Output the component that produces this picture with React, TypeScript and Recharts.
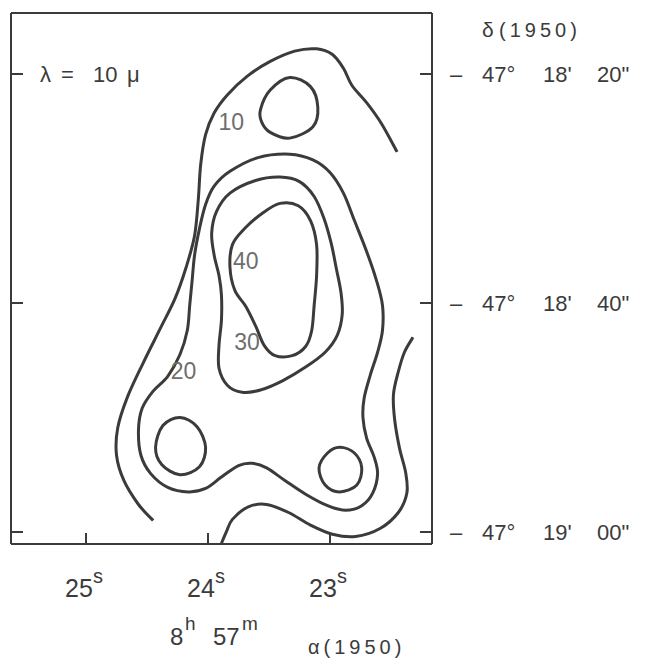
import React from "react";
import { LineChart, Line, XAxis, YAxis, ReferenceDot } from "recharts";

// right ascension in seconds (8h 57m), declination in arcsec past -47° 18'
const raTicks = [25, 24, 23];
const decTicks = [20, 40, 60];
const decTickText: Record<number, string[]> = {
  20: ["47°", "18'", '20"'],
  40: ["47°", "18'", '40"'],
  60: ["47°", "19'", '00"'],
};

// outer 10 contour, open at both ends
const contour10Outer: number[][] = [
  [24.45, 59.0], [24.57, 57.6], [24.69, 55.5], [24.75, 53.3], [24.74, 50.9],
  [24.66, 48.2], [24.53, 45.2], [24.39, 42.2], [24.27, 39.6], [24.18, 36.9],
  [24.11, 34.1], [24.08, 31.0], [24.06, 27.9], [24.02, 25.3], [23.95, 23.4],
  [23.84, 21.8], [23.68, 20.2], [23.49, 18.9], [23.29, 18.0], [23.11, 17.8],
  [22.98, 18.3], [22.89, 19.5], [22.82, 21.0], [22.7, 22.5], [22.58, 24.3],
  [22.45, 26.8],
];

// lower-right arc, open
const contour10Lower: number[][] = [
  [22.32, 43.0], [22.39, 44.3], [22.44, 46.0], [22.48, 48.0], [22.47, 50.2],
  [22.43, 52.7], [22.38, 54.8], [22.37, 56.6], [22.44, 58.3], [22.59, 59.7],
  [22.79, 60.4], [22.98, 60.2], [23.16, 59.4], [23.34, 58.3], [23.52, 57.6],
  [23.67, 57.8], [23.8, 58.9], [23.85, 60.0], [23.89, 61.0],
];

// small 10 loop near the top
const contour10Top: number[][] = [
  [23.57, 23.1], [23.49, 21.4], [23.33, 20.3], [23.16, 21.1], [23.1, 22.9],
  [23.14, 24.6], [23.33, 25.6], [23.49, 25.1], [23.56, 24.2],
];

const contour20: number[][] = [
  [23.33, 27.0], [23.14, 27.5], [23.0, 28.6], [22.89, 30.4], [22.8, 32.8],
  [22.7, 35.5], [22.62, 38.0], [22.57, 40.2], [22.57, 42.4], [22.61, 44.3],
  [22.67, 46.3], [22.72, 48.3], [22.73, 50.0], [22.7, 51.8], [22.64, 53.4],
  [22.61, 54.9], [22.65, 56.6], [22.74, 57.7], [22.87, 58.1], [23.02, 57.7],
  [23.2, 56.7], [23.37, 55.5], [23.52, 54.4], [23.64, 54.0], [23.75, 54.2],
  [23.89, 55.2], [24.02, 56.2], [24.16, 56.5], [24.33, 56.1], [24.47, 54.9],
  [24.55, 53.3], [24.57, 51.1], [24.54, 49.2], [24.45, 47.7], [24.33, 46.4],
  [24.23, 44.5], [24.17, 42.4], [24.15, 40.2], [24.13, 38.0], [24.11, 35.8],
  [24.07, 33.5], [24.02, 31.4], [23.95, 29.8], [23.82, 28.5], [23.59, 27.3],
];

// 20 loops at lower left and lower right
const contour20Left: number[][] = [
  [24.43, 52.6], [24.37, 50.7], [24.23, 50.0], [24.09, 50.8], [24.02, 52.6],
  [24.07, 54.3], [24.23, 55.0], [24.38, 54.1],
];
const contour20Right: number[][] = [
  [23.09, 54.4], [23.02, 53.1], [22.92, 52.6], [22.8, 53.1], [22.74, 54.4],
  [22.78, 55.9], [22.92, 56.5], [23.04, 55.9],
];

const contour30: number[][] = [
  [23.41, 29.0], [23.25, 29.4], [23.13, 30.7], [23.05, 32.6], [22.99, 34.8],
  [22.95, 36.9], [22.91, 39.1], [22.9, 41.0], [22.94, 42.8], [23.04, 44.3],
  [23.2, 45.6], [23.39, 46.8], [23.57, 47.6], [23.72, 47.8], [23.84, 47.2],
  [23.91, 45.7], [23.91, 43.7], [23.89, 41.5], [23.89, 39.3], [23.91, 37.6],
  [23.95, 35.8], [23.97, 33.9], [23.93, 32.0], [23.82, 30.4], [23.61, 29.3],
];

const contour40: number[][] = [
  [23.41, 31.3], [23.26, 31.5], [23.16, 32.8], [23.11, 34.9], [23.11, 37.6],
  [23.13, 40.2], [23.15, 42.4], [23.2, 43.8], [23.31, 44.6], [23.45, 44.6],
  [23.54, 43.7], [23.61, 42.0], [23.69, 40.3], [23.78, 38.9], [23.82, 36.9],
  [23.8, 34.9], [23.7, 33.5], [23.56, 32.2],
];

const contourLabels = [
  { text: "10", ra: 23.81, dec: 24.2 },
  { text: "40", ra: 23.69, dec: 36.3 },
  { text: "30", ra: 23.68, dec: 43.4 },
  { text: "20", ra: 24.2, dec: 45.9 },
];

const INK = "#3b3b3b";
const FONT = "'Liberation Sans', Arial, sans-serif";

const toPoints = (c: number[][]) => c.map(([ra, dec]) => ({ ra, dec }));

// catmull-rom through the traced points, closed or open
function smoothCurve(closed: boolean) {
  return (context: any) => {
    let pts: number[][] = [];
    return {
      areaStart() {},
      areaEnd() {},
      lineStart() {
        pts = [];
      },
      point(x: number, y: number) {
        pts.push([+x, +y]);
      },
      lineEnd() {
        const n = pts.length;
        if (n < 2) return;
        const at = (i: number) =>
          closed ? pts[(i + n) % n] : pts[Math.max(0, Math.min(n - 1, i))];
        context.moveTo(pts[0][0], pts[0][1]);
        const segs = closed ? n : n - 1;
        for (let i = 0; i < segs; i++) {
          const p0 = at(i - 1), p1 = at(i), p2 = at(i + 1), p3 = at(i + 2);
          context.bezierCurveTo(
            p1[0] + (p2[0] - p0[0]) / 6, p1[1] + (p2[1] - p0[1]) / 6,
            p2[0] - (p3[0] - p1[0]) / 6, p2[1] - (p3[1] - p1[1]) / 6,
            p2[0], p2[1]
          );
        }
        if (closed) context.closePath();
      },
    };
  };
}

const closedCurve = smoothCurve(true);
const openCurve = smoothCurve(false);

const series = [
  { name: "10-outer", data: contour10Outer, closed: false },
  { name: "10-lower", data: contour10Lower, closed: false },
  { name: "10-top", data: contour10Top, closed: true },
  { name: "20", data: contour20, closed: true },
  { name: "20-left", data: contour20Left, closed: true },
  { name: "20-right", data: contour20Right, closed: true },
  { name: "30", data: contour30, closed: true },
  { name: "40", data: contour40, closed: true },
];

const RaTick = (props: any) => {
  const { x, y, payload } = props;
  return (
    <g>
      <line x1={x} y1={y} x2={x} y2={y - 11} stroke={INK} strokeWidth={2} />
      <text x={x - 2} y={y + 53} textAnchor="middle" fontSize={25} fill={INK} fontFamily={FONT}>
        {payload.value}
        <tspan dy={-14} fontSize={20}>s</tspan>
      </text>
    </g>
  );
};

const TopTick = (props: any) => {
  const { x, y } = props;
  return <line x1={x} y1={y} x2={x} y2={y + 11} stroke={INK} strokeWidth={2} />;
};

const LeftTick = (props: any) => {
  const { x, y } = props;
  return <line x1={x} y1={y} x2={x + 12} y2={y} stroke={INK} strokeWidth={2} />;
};

const DecTick = (props: any) => {
  const { x, y, payload } = props;
  const parts = decTickText[payload.value] || [];
  const base = y + 8;
  return (
    <g>
      <line x1={x} y1={y} x2={x - 12} y2={y} stroke={INK} strokeWidth={2} />
      <text y={base} fontSize={22} fill={INK} fontFamily={FONT}>
        <tspan x={x + 18}>–</tspan>
        <tspan x={x + 50}>{parts[0]}</tspan>
        <tspan x={x + 111}>{parts[1]}</tspan>
        <tspan x={x + 165}>{parts[2]}</tspan>
      </text>
    </g>
  );
};

export default function App() {
  return (
    <div style={{ position: "absolute", left: 0, top: 0, width: 655, height: 661, background: "#fff" }}>
      <LineChart
        width={655}
        height={661}
        margin={{ top: 12, right: 222, bottom: 116, left: 10 }}
      >
        <XAxis
          dataKey="ra"
          type="number"
          domain={[22.164, 25.615]}
          allowDataOverflow
          reversed
          ticks={raTicks}
          interval={0}
          height={1}
          tickSize={0}
          tickMargin={0}
          tickLine={false}
          tick={<RaTick />}
          axisLine={{ stroke: INK, strokeWidth: 2 }}
        />
        <XAxis
          xAxisId="top"
          orientation="top"
          type="number"
          domain={[22.164, 25.615]}
          allowDataOverflow
          reversed
          ticks={raTicks}
          interval={0}
          height={1}
          tickSize={0}
          tickMargin={0}
          tickLine={false}
          tick={<TopTick />}
          axisLine={{ stroke: INK, strokeWidth: 2 }}
        />
        <YAxis
          dataKey="dec"
          type="number"
          domain={[14.67, 61.05]}
          allowDataOverflow
          reversed
          ticks={decTicks}
          interval={0}
          width={1}
          tickSize={0}
          tickMargin={0}
          tickLine={false}
          tick={<LeftTick />}
          axisLine={{ stroke: INK, strokeWidth: 2 }}
        />
        <YAxis
          yAxisId="right"
          orientation="right"
          type="number"
          domain={[14.67, 61.05]}
          allowDataOverflow
          reversed
          ticks={decTicks}
          interval={0}
          width={1}
          tickSize={0}
          tickMargin={0}
          tickLine={false}
          tick={<DecTick />}
          axisLine={{ stroke: INK, strokeWidth: 2 }}
        />
        {series.map((s) => (
          <Line
            key={s.name}
            data={toPoints(s.data)}
            dataKey="dec"
            type={(s.closed ? closedCurve : openCurve) as any}
            stroke={INK}
            strokeWidth={3}
            dot={false}
            activeDot={false}
            isAnimationActive={false}
          />
        ))}
        {contourLabels.map((l) => (
          <ReferenceDot
            key={l.text}
            x={l.ra}
            y={l.dec}
            r={0}
            shape={(p: any) => (
              <text
                x={p.cx}
                y={p.cy}
                textAnchor="middle"
                dominantBaseline="central"
                fontSize={23}
                fill="#6e6e6e"
                fontFamily={FONT}
              >
                {l.text}
              </text>
            )}
          />
        ))}
      </LineChart>
      <svg
        width={655}
        height={661}
        style={{ position: "absolute", left: 0, top: 0, pointerEvents: "none" }}
        fontFamily={FONT}
        fill={INK}
      >
        <text y={82} fontSize={22}>
          <tspan x={40}>λ</tspan>
          <tspan x={61}>=</tspan>
          <tspan x={93}>10</tspan>
          <tspan x={127}>μ</tspan>
        </text>
        <text y={37}>
          <tspan x={482} fontSize={21}>δ</tspan>
          <tspan x={499} fontSize={20} letterSpacing={4}>(1950)</tspan>
        </text>
        <text y={645} fontSize={24}>
          <tspan x={170}>8</tspan>
          <tspan x={185} y={630} fontSize={19}>h</tspan>
          <tspan x={213} y={645}>57</tspan>
          <tspan x={242} y={630} fontSize={19}>m</tspan>
        </text>
        <text x={308} y={654} fontSize={20} letterSpacing={4}>
          α(1950)
        </text>
      </svg>
    </div>
  );
}
